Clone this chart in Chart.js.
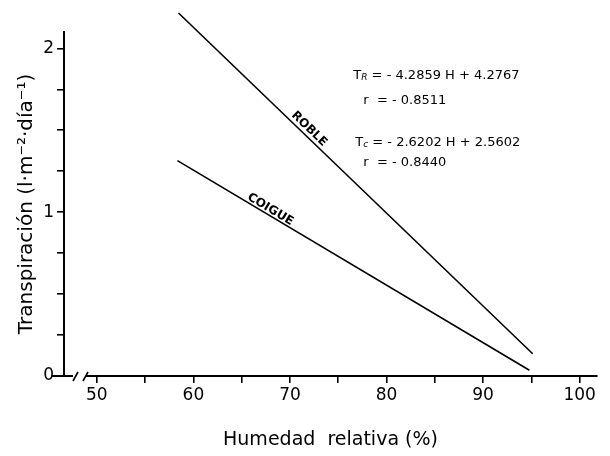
<!DOCTYPE html>
<html>
<head>
<meta charset="utf-8">
<script src="https://cdn.jsdelivr.net/npm/chart.js@4.4.1/dist/chart.umd.min.js"></script>
<style>
  html, body { margin: 0; padding: 0; background: #fff; }
  #wrap { width: 610px; height: 456px; }
</style>
</head>
<body>
<div id="wrap"><canvas id="c" width="610" height="456"></canvas></div>
<script>
// ---- data ----
const robleHumidity = [58.46, 95.14];
const robleTranspiration = [2.216, 0.136];
const coigueHumidity = [58.35, 94.8];
const coigueTranspiration = [1.315, 0.035];
const seriesLabels = ['ROBLE', 'COIGUE'];
const xTickValues = [50, 55, 60, 65, 70, 75, 80, 85, 90, 95, 100];
const yTickValues = [0, 0.25, 0.5, 0.75, 1, 1.25, 1.5, 1.75, 2];
const equationLines = [
  { main: 'T', sub: 'R', rest: ' = - 4.2859 H + 4.2767' },
  { main: 'r', sub: '', rest: '  = - 0.8511' },
  { main: 'T', sub: 'c', rest: ' = - 2.6202 H + 2.5602' },
  { main: 'r', sub: '', rest: '  = - 0.8440' }
];
// anchor of each equation line in data space (humidity, transpiration)
const equationAnchorX = [76.56, 77.6, 76.77, 77.6];
const equationAnchorY = [1.835, 1.682, 1.425, 1.303];

const FONT = "'DejaVu Sans', 'Liberation Sans', sans-serif";

function toPoints(xs, ys) { return xs.map((x, i) => ({ x: x, y: ys[i] })); }

const labelPlacement = [ { t: 0.355, off: 7 }, { t: 0.256, off: 5.5 } ];

const annotPlugin = {
  id: 'annot',
  afterDatasetsDraw(chart) {
    const ctx = chart.ctx;
    const xs = chart.scales.x, ys = chart.scales.y;
    ctx.save();
    ctx.fillStyle = '#000';
    chart.data.datasets.forEach((ds, i) => {
      const p0 = ds.data[0], p1 = ds.data[ds.data.length - 1];
      const x0 = xs.getPixelForValue(p0.x), y0 = ys.getPixelForValue(p0.y);
      const x1 = xs.getPixelForValue(p1.x), y1 = ys.getPixelForValue(p1.y);
      const a = Math.atan2(y1 - y0, x1 - x0);
      const pl = labelPlacement[i];
      const px = x0 + (x1 - x0) * pl.t + Math.sin(a) * pl.off;
      const py = y0 + (y1 - y0) * pl.t - Math.cos(a) * pl.off;
      ctx.save();
      ctx.translate(px, py);
      ctx.rotate(a);
      ctx.font = 'bold 12px ' + FONT;
      ctx.textAlign = 'center';
      ctx.textBaseline = 'middle';
      ctx.fillText(seriesLabels[i], 0, 0);
      ctx.restore();
    });
    equationLines.forEach((ln, i) => {
      let x = xs.getPixelForValue(equationAnchorX[i]);
      const y = ys.getPixelForValue(equationAnchorY[i]);
      ctx.textAlign = 'left';
      ctx.textBaseline = 'middle';
      ctx.font = '13px ' + FONT;
      ctx.fillText(ln.main, x, y);
      x += ctx.measureText(ln.main).width;
      if (ln.sub) {
        ctx.font = 'italic 9px ' + FONT;
        ctx.fillText(ln.sub, x, y + 2);
        x += ctx.measureText(ln.sub).width;
      }
      ctx.font = '13px ' + FONT;
      ctx.fillText(ln.rest, x, y);
    });
    ctx.restore();
  },
  afterDraw(chart) {
    const ctx = chart.ctx;
    const yb = chart.chartArea.bottom;
    const left = chart.chartArea.left;
    ctx.save();
    ctx.fillStyle = '#fff';
    ctx.fillRect(left + 9, yb - 3, 13, 6);
    ctx.strokeStyle = '#000';
    ctx.lineWidth = 1.6;
    [left + 11.5, left + 21.5].forEach(cx => {
      ctx.beginPath();
      ctx.moveTo(cx - 2.5, yb + 5);
      ctx.lineTo(cx + 2.5, yb - 4);
      ctx.stroke();
    });
    ctx.lineWidth = 2;
    ctx.beginPath();
    ctx.moveTo(left - 12, yb);
    ctx.lineTo(left + 9, yb);
    ctx.stroke();
    ctx.restore();
  }
};

new Chart(document.getElementById('c'), {
  type: 'scatter',
  data: {
    datasets: [
      { label: seriesLabels[0], data: toPoints(robleHumidity, robleTranspiration), showLine: true,
        borderColor: '#000', borderWidth: 1.6, pointRadius: 0, clip: false, fill: false },
      { label: seriesLabels[1], data: toPoints(coigueHumidity, coigueTranspiration), showLine: true,
        borderColor: '#000', borderWidth: 1.6, pointRadius: 0, clip: false, fill: false }
    ]
  },
  options: {
    responsive: false,
    animation: false,
    layout: { padding: { top: 32, right: 13, left: 0, bottom: 0 } },
    plugins: { legend: { display: false }, tooltip: { enabled: false } },
    scales: {
      x: {
        type: 'linear', min: 46.6, max: 101.8,
        afterBuildTicks(s) { s.ticks = xTickValues.map(v => ({ value: v })); },
        afterFit(s) { s.height = 80; },
        border: { display: true, color: '#000', width: 2 },
        grid: { drawOnChartArea: false, drawTicks: true, tickLength: 7, color: '#000', lineWidth: 1.6 },
        ticks: {
          color: '#000', font: { family: FONT, size: 17 }, padding: 2, maxRotation: 0, autoSkip: false,
          callback: v => (v % 10 === 0 ? String(v) : '')
        },
        title: { display: true, text: 'Humedad  relativa (%)', color: '#000',
          font: { family: FONT, size: 19 }, padding: { top: 0, bottom: 5 } }
      },
      y: {
        type: 'linear', min: 0, max: 2.1,
        afterBuildTicks(s) { s.ticks = yTickValues.map(v => ({ value: v })); },
        afterFit(s) { s.width = 64; },
        border: { display: true, color: '#000', width: 2 },
        grid: { drawOnChartArea: false, drawTicks: true, tickLength: 7, color: '#000', lineWidth: 1.6 },
        ticks: {
          color: '#000', font: { family: FONT, size: 17 }, padding: 3, autoSkip: false,
          callback: v => (Number.isInteger(v) ? String(v) : '')
        },
        title: { display: true, text: 'Transpiración (l·m⁻²·día⁻¹)', color: '#000',
          font: { family: FONT, size: 20 }, padding: { top: 15, bottom: 15 } }
      }
    }
  },
  plugins: [annotPlugin]
});
</script>
</body>
</html>
